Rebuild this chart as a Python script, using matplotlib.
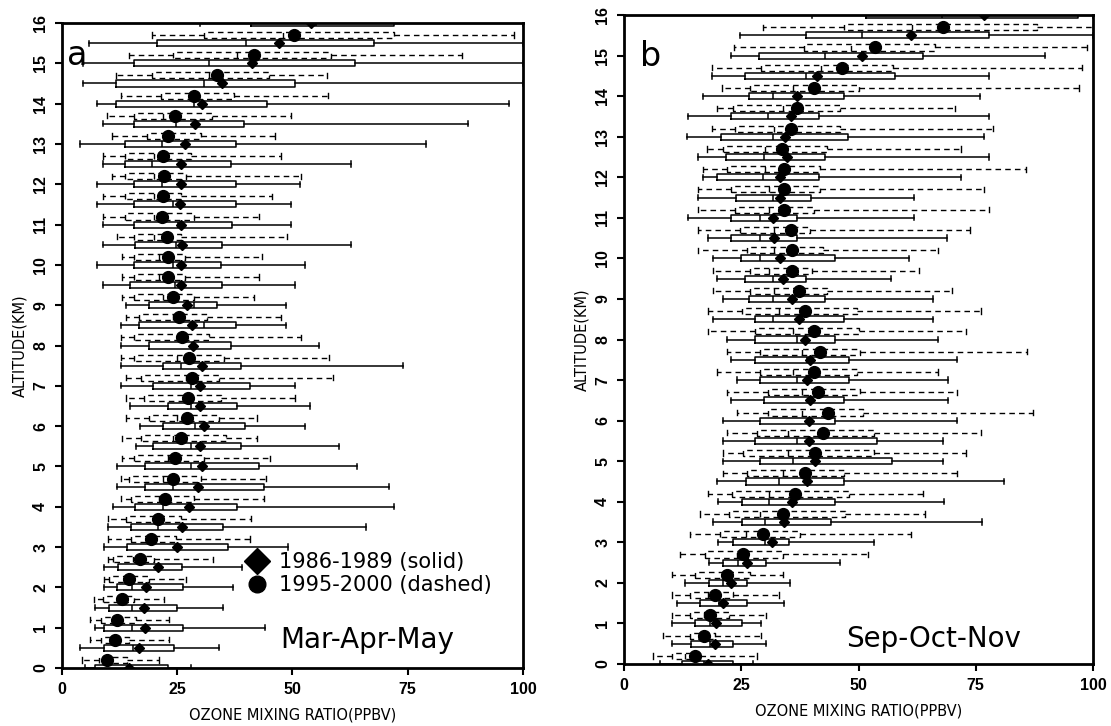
import numpy as np
import matplotlib
matplotlib.use("Agg")
import matplotlib.pyplot as plt
from matplotlib.lines import Line2D

# ---------------- data ----------------
alt = [0, 0.5, 1, 1.5, 2, 2.5, 3, 3.5, 4, 4.5, 5, 5.5, 6, 6.5, 7, 7.5, 8,
       8.5, 9, 9.5, 10, 10.5, 11, 11.5, 12, 12.5, 13, 13.5, 14, 14.5, 15, 15.5, 16]
alt_dash = alt[:-1]          # dashed rows (drawn slightly above each altitude)

# Panel a (Mar-Apr-May), 1986-1989 (solid)
a_s_lo  = [5, 3.9, 7.2, 7.2, 9.1, 9.1, 9.1, 10, 11, 11.9, 11.9, 16, 17, 14.8, 12.9, 12.9, 12.9,
           12.9, 13.9, 8.8, 7.7, 8.8, 8.8, 7.7, 7.7, 8.8, 3.8, 8.8, 7.7, 4.5, 4.5, 5.8, 30]
a_s_q1  = [7.1, 9.1, 9.1, 10.2, 11.9, 12.1, 14.1, 15, 15.9, 18, 18, 19.8, 22, 23, 19.8, 22, 18.9,
           16.8, 18.8, 14.8, 15.7, 15.9, 15.7, 15.7, 15.7, 13.7, 13.7, 15.7, 11.7, 11.7, 15.7, 20.6, 41]
a_s_med = [15, 15.3, 15.2, 15.2, 15.2, 20.7, 24.7, 20.8, 21.9, 24, 27.9, 27.9, 28.9, 27.9, 27.9, 25.8, 28.3,
           30.8, 28.6, 24.5, 24, 24.8, 25.1, 24, 21.6, 19.6, 21.6, 24.7, 28.6, 30.7, 32, 40, 55]
a_s_q3  = [23.1, 24.2, 26.2, 25, 26.2, 26, 36, 35, 37.9, 43.8, 42.7, 38.9, 39.8, 38, 40.8, 38.8, 36.7,
           37.7, 33.7, 34.8, 34.6, 34.8, 36.8, 37.7, 37.7, 36.6, 37.7, 39.5, 44.5, 50.5, 63.5, 67.6, 72]
a_s_hi  = [28, 34, 44, 35, 37, 39, 49, 66, 72, 71, 64, 60, 52.8, 53.9, 50.6, 73.9, 55.8,
           48.7, 48.7, 50.6, 52.8, 62.8, 49.7, 49.7, 51.6, 62.8, 79, 88, 97, 100, 100, 100, 100]
a_s_mean = [14.5, 16.7, 18, 17.7, 18.2, 20.8, 25, 26.1, 27.6, 29.6, 30.4, 30, 30.7, 29.9, 30, 30.4, 28.4,
            28.1, 27.1, 25.8, 25.8, 26.1, 25.9, 25.5, 25.8, 25.9, 26.6, 28.8, 30.4, 34.8, 41.3, 47.1, 54]

# Panel a, 1995-2000 (dashed)
a_d_lo  = [4.3, 6.1, 6.1, 7, 9.1, 10, 10, 10, 12.9, 12.9, 13.1, 13.1, 13.9, 13.9, 13.9, 12.9,
           12.9, 13.9, 13.1, 13.1, 13.1, 12, 8.8, 8.8, 10.8, 8.8, 10.8, 9.7, 12.9, 11.7, 14.6, 19.6]
a_d_q1  = [8, 8.5, 8.5, 9, 10.2, 11.1, 15, 13.9, 15, 14.6, 15.7, 17.1, 18.9, 17.8, 17.1, 15.7,
           15.7, 16.8, 15.7, 15.7, 15.7, 15.7, 13.7, 13.7, 13.7, 13.7, 18.5, 15.7, 21.4, 19.6, 24, 30.8]
a_d_med = [10, 10.5, 11, 12, 14, 15.5, 19, 20, 21, 22, 23, 24, 25, 27, 27, 25,
           25, 24, 22, 21, 21, 20, 20, 20, 20, 20, 23, 22, 28, 32, 38, 48]
a_d_q3  = [14, 14.5, 16, 15.6, 18.9, 20, 24.7, 25.8, 28.6, 30.1, 30.8, 35.5, 34, 34.4, 34, 35.1,
           31.9, 31.5, 28.6, 26.6, 26.6, 25.8, 28.6, 25.8, 26.9, 27.9, 30.1, 32.6, 37.3, 45, 58.4, 72]
a_d_hi  = [21, 23.2, 23.2, 22.1, 27, 32.8, 40.8, 40.9, 43.8, 44.2, 45.2, 42.3, 42.3, 50.6, 58.9, 58,
           51.8, 47.6, 41.6, 42.7, 43.4, 48.9, 42.7, 45.6, 51.9, 47.5, 46.3, 49.6, 57.6, 57.4, 86.7, 98]
a_d_mean = [9.7, 11.5, 11.9, 13.1, 14.6, 17, 19.4, 20.9, 22.4, 24, 24.5, 25.8, 27.1, 27.4, 28.1, 27.6,
            26.1, 25.4, 24, 23, 23, 22.7, 21.8, 22, 22.2, 22, 22.9, 24.5, 28.6, 33.7, 41.6, 50.3]

# Panel b (Sep-Oct-Nov), 1986-1989 (solid)
b_s_lo  = [7.7, 10.2, 10.2, 11.2, 13, 18.2, 20, 18.9, 20, 19.9, 21, 21, 21, 22.9, 24, 22.9, 21.9,
           18.9, 21, 19.9, 18.9, 17.8, 13.7, 15.8, 16.8, 15.8, 13.5, 13.7, 16.8, 18.7, 22.7, 24.7, 40]
b_s_q1  = [12.3, 14.2, 15.1, 16.1, 18.2, 21, 23.2, 25.1, 25.1, 26, 29, 27.9, 29, 29.9, 28.9, 27.9, 27.9,
           27.9, 26.7, 25.8, 24.9, 22.9, 22.9, 23.8, 19.8, 21.7, 20.7, 22.7, 26.7, 25.7, 28.8, 38.8, 51.7]
b_s_med = [17, 18.4, 18.4, 20.3, 21.2, 24.2, 30.1, 30.1, 31, 33, 36.1, 36.9, 39.7, 39.7, 36.9, 39, 36.8,
           31.8, 31.8, 31.8, 29, 29, 29, 31.8, 29.7, 29.8, 31.8, 30.8, 31.8, 38.8, 42.9, 50.8, 67.7]
b_s_q3  = [23.2, 23.2, 25.1, 26.2, 26.2, 30.2, 35.2, 44.1, 45, 47, 57.1, 54, 45, 47, 48, 48, 44.9,
           47, 42.9, 38.8, 44.9, 36.8, 36.8, 39.8, 41.6, 42.9, 47.8, 41.6, 46.8, 57.8, 63.7, 77.8, 96.8]
b_s_hi  = [27.6, 30.3, 29.2, 34.1, 35.3, 46.1, 53.2, 76.3, 68.2, 81.1, 68.1, 68.1, 71, 69, 69, 71, 67,
           65.9, 65.8, 57, 60.8, 68.9, 61.8, 61.8, 71.8, 77.9, 76.8, 77.9, 75.8, 77.8, 89.8, 100, 100]
b_s_mean = [17.8, 19.4, 19.6, 21.2, 22.7, 26.3, 31.5, 34.1, 35.9, 39, 40.7, 39.5, 39.5, 39.7, 39, 39.7, 38.6,
            37.3, 35.9, 33.8, 33.3, 32, 31.7, 33.3, 33.3, 34.7, 34.3, 35.7, 36.9, 41.1, 50.8, 61.2, 76.8]

# Panel b, 1995-2000 (dashed)
b_d_lo  = [6.1, 8.3, 10.2, 10.2, 10.2, 11.9, 14.1, 16.1, 18, 21, 21, 21.9, 24, 21.9, 19.8, 21.9,
           18, 17.8, 18.9, 18.9, 15.8, 15.8, 15.8, 15.8, 16.9, 17.6, 18.7, 19.8, 20.8, 18.7, 23.5, 29.7]
b_d_q1  = [10.2, 14.1, 14.1, 14.1, 15.1, 17.3, 20.5, 22.3, 23, 26.2, 25.4, 28.3, 30.8, 30.8, 29, 29,
           27.9, 25.1, 26.9, 26.9, 26.2, 24.7, 23.7, 22.9, 21.9, 21.2, 23.7, 23.3, 26.9, 29.3, 38.4, 46.8]
b_d_med = [13, 16, 17, 18, 21, 24, 26, 29, 31, 34, 35, 35, 38, 38, 36, 38,
           36, 33, 32, 31, 32, 32, 31, 31, 30, 30, 32, 34, 36, 42, 48.5, 61.3]
b_d_q3  = [16.2, 19.4, 22.3, 23.3, 26.9, 34, 37.5, 47.1, 48, 46.8, 53.2, 53.2, 51, 50.3, 49.6, 50.3,
           50, 49.6, 43.2, 40, 42.5, 39.7, 40.4, 41.8, 41.8, 43.2, 46, 46, 50, 57.4, 66.3, 88]
b_d_hi  = [28.3, 29.2, 30.3, 33.1, 34, 52.1, 61.1, 64.2, 63.8, 71, 73, 76.1, 87.1, 71, 66.9, 86,
           73, 76.1, 69.9, 62.9, 66.9, 73.8, 77.8, 76.8, 85.7, 71.8, 78.6, 70.6, 97, 97.6, 98.7, 100]
b_d_mean = [15.1, 17.1, 18.4, 19.4, 21.9, 25.4, 29.7, 33.9, 36.5, 38.5, 40.7, 42.4, 43.4, 41.3, 40.4, 41.7,
            40.6, 38.5, 37.3, 35.9, 35.9, 35.7, 34.1, 34.1, 34.1, 33.6, 35.5, 36.9, 40.4, 46.4, 53.5, 68.1]

x_ticks = [0, 25, 50, 75, 100]
y_ticks = list(range(0, 17))
legend_labels = ["1986-1989 (solid)", "1995-2000 (dashed)"]

# ---------------- drawing ----------------
DASH_OFFSET = 0.2
BOX_W = 0.15
CAP_W = 0.13
DASH = (0, (4, 3))


def stats(lo, q1, med, q3, hi, mean):
    return [dict(whislo=a, q1=b, med=c, q3=d, whishi=e, mean=f, fliers=[])
            for a, b, c, d, e, f in zip(lo, q1, med, q3, hi, mean)]


def draw_panel(ax, s, d):
    n_s = len(s[0])
    n_d = len(d[0])
    common = dict(orientation='horizontal', showfliers=False, showmeans=True,
                  manage_ticks=False)
    ax.bxp(stats(*s), positions=alt[:n_s], widths=BOX_W, capwidths=CAP_W,
           boxprops=dict(color='black', lw=1.1),
           whiskerprops=dict(color='black', lw=1.1),
           capprops=dict(color='black', lw=1.1),
           medianprops=dict(color='black', lw=1.1),
           meanprops=dict(marker='D', markerfacecolor='black', markeredgecolor='black',
                          markersize=5.5),
           zorder=3, **common)
    pos_d = [p + DASH_OFFSET for p in alt_dash[:n_d]]
    ax.bxp(stats(*d), positions=pos_d, widths=BOX_W, capwidths=CAP_W,
           boxprops=dict(color='black', lw=1.0, linestyle=DASH),
           whiskerprops=dict(color='black', lw=1.0, linestyle=DASH),
           capprops=dict(color='black', lw=1.0),
           medianprops=dict(color='black', lw=1.0, linestyle=DASH),
           meanprops=dict(marker='o', markerfacecolor='black', markeredgecolor='black',
                          markersize=8.5),
           zorder=3, **common)
    ax.set_xlim(0, 100)
    ax.set_ylim(0, 16)
    ax.set_xticks(x_ticks)
    ax.set_yticks(y_ticks)
    ax.set_xticklabels([str(t) for t in x_ticks], fontsize=11.5, fontweight='bold',
                       family='Liberation Sans')
    ax.set_yticklabels([str(t) for t in y_ticks], fontsize=11.5, fontweight='bold',
                       family='Liberation Sans', rotation=90, va='center')
    ax.tick_params(direction='out', length=5, width=1.5, pad=5)
    for sp in ax.spines.values():
        sp.set_linewidth(2)
    ax.set_xlabel("OZONE MIXING RATIO(PPBV)", fontsize=10.5, family='DejaVu Sans',
                  labelpad=8)
    ax.set_ylabel("ALTITUDE(KM)", fontsize=10.5, family='DejaVu Sans', labelpad=4)


fig = plt.figure(figsize=(11.11, 7.26), dpi=100)
ax_a = fig.add_axes([0.0558, 0.0799, 0.4149, 0.8884])
ax_b = fig.add_axes([0.5617, 0.0854, 0.4221, 0.8939])

draw_panel(ax_a,
           (a_s_lo, a_s_q1, a_s_med, a_s_q3, a_s_hi, a_s_mean),
           (a_d_lo, a_d_q1, a_d_med, a_d_q3, a_d_hi, a_d_mean))
draw_panel(ax_b,
           (b_s_lo, b_s_q1, b_s_med, b_s_q3, b_s_hi, b_s_mean),
           (b_d_lo, b_d_q1, b_d_med, b_d_q3, b_d_hi, b_d_mean))

ax_a.text(1.0, 14.95, "a", fontsize=24, family='DejaVu Sans', va='baseline', zorder=5)
ax_b.text(3.4, 14.75, "b", fontsize=24, family='DejaVu Sans', va='baseline', zorder=5)
ax_a.text(47.4, 0.5, "Mar-Apr-May", fontsize=20, family='DejaVu Sans', va='baseline')
ax_b.text(47.4, 0.42, "Sep-Oct-Nov", fontsize=20, family='DejaVu Sans', va='baseline')

handles = [Line2D([], [], ls='none', marker='D', color='black', markersize=13),
           Line2D([], [], ls='none', marker='o', color='black', markersize=12)]
ax_a.legend(handles, legend_labels, loc='upper left', bbox_to_anchor=(0.400, 0.180),
            frameon=False, handlelength=1.0, handletextpad=0.55,
            labelspacing=0.15, borderpad=0, borderaxespad=0,
            prop={'family': 'DejaVu Sans', 'size': 15})

fig.savefig("out.png", dpi=100, facecolor='white')
